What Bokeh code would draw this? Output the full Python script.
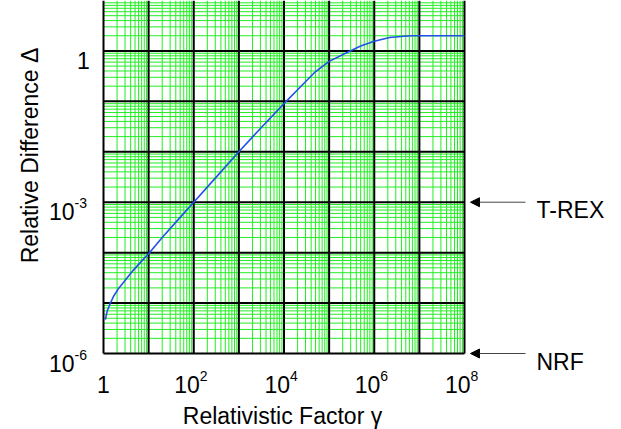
import numpy as np
from bokeh.plotting import figure
from bokeh.models import Label, Arrow, NormalHead, Range1d
from bokeh.embed import file_html
from bokeh.resources import INLINE

# ---- data ----
gamma = [1.1, 1.2, 1.4, 1.7, 2.2, 3.0, 4.5, 7, 10, 20, 50, 100, 300, 1000, 3000,
         1e4, 2e4, 4.7e4, 1e5, 2.5e5, 5e5, 1e6, 2.2e6, 4.5e6, 7e6, 1e7, 1e8]
delta = [4.7e-6, 6.8e-6, 9.7e-6, 1.4e-5, 2.0e-5, 2.8e-5, 4.4e-5, 6.8e-5, 9.5e-5,
         2.0e-4, 5.0e-4, 1.0e-3, 3.0e-3, 1.0e-2, 2.9e-2, 9.0e-2, 0.17, 0.37, 0.62,
         0.93, 1.25, 1.55, 1.85, 1.95, 2.0, 2.0, 2.0]
x_tick_vals = [1, 1e2, 1e4, 1e6, 1e8]
x_tick_exps = ["", "2", "4", "6", "8"]
y_tick_vals = [1e-6, 1e-3, 1]
y_tick_exps = ["-6", "-3", ""]
marker_levels = [1e-3, 1e-6]
marker_names = ["T-REX", "NRF"]
x_title = "Relativistic Factor \u03b3"
y_title = "Relative Difference \u0394"

# ---- layout (pixel geometry of the plotting area) ----
W, H = 621, 429
FL, FR, FT, FB = 103, 464, 0, 353
X0, X1 = 1.0, 1e8
Y0, Y1 = 1e-6, 1e1
lx0, lx1 = np.log10(X0), np.log10(X1)
ly0, ly1 = np.log10(Y0), np.log10(Y1)
kx = (lx1 - lx0) / (FR - FL)   # decades per pixel
ky = (ly1 - ly0) / (FB - FT)

def px_x(px):
    return 10 ** (lx0 + (px - FL) * kx)

def py_y(py):
    return 10 ** (ly1 - (py - FT) * ky)

def x_px(x):
    return FL + (np.log10(x) - lx0) / kx

def y_py(y):
    return FT + (ly1 - np.log10(y)) / ky

FONT = "Liberation Sans"
MAIN = "23px"
SUP = "14px"
GREEN = "#22ee22"
BLUE = "#2050e8"

p = figure(width=W, height=H, x_axis_type="log", y_axis_type="log",
           x_range=Range1d(px_x(0), px_x(W)), y_range=Range1d(py_y(H), py_y(0)),
           x_axis_location=None, y_axis_location=None,
           output_backend="svg", toolbar_location=None,
           min_border_left=0, min_border_right=0, min_border_top=0, min_border_bottom=0)
p.outline_line_color = None
p.background_fill_color = "white"
p.border_fill_color = "white"
for g in p.grid:
    g.visible = False

# grid lines (decades black, 2..9 green) limited to the plotting area
x_major = [10.0 ** k for k in range(0, 9)]
x_minor = [m * 10.0 ** k for k in range(0, 8) for m in range(2, 10)]
y_major = [10.0 ** k for k in range(-6, 1)]
y_minor = [m * 10.0 ** k for k in range(-6, 1) for m in range(2, 10)]

p.segment(x0=x_minor, y0=[Y0] * len(x_minor), x1=x_minor, y1=[Y1] * len(x_minor),
          line_color=GREEN, line_width=1)
p.segment(x0=[X0] * len(y_minor), y0=y_minor, x1=[X1] * len(y_minor), y1=y_minor,
          line_color=GREEN, line_width=1)
p.segment(x0=x_major, y0=[Y0] * len(x_major), x1=x_major, y1=[Y1] * len(x_major),
          line_color="black", line_width=2)
p.segment(x0=[X0] * len(y_major), y0=y_major, x1=[X1] * len(y_major), y1=y_major,
          line_color="black", line_width=2)

p.line(gamma, delta, line_color=BLUE, line_width=1.6)

def lab(x, y, text, size=MAIN, align="left", baseline="alphabetic", angle=0):
    p.add_layout(Label(x=x, y=y, text=text, text_font=FONT, text_font_size=size,
                       text_color="black", text_align=align,
                       text_baseline=baseline, angle=angle))

# x tick labels
xb = 383.5
for v, e in zip(x_tick_vals, x_tick_exps):
    if e == "":
        lab(v, py_y(xb), "1", align="center")
    else:
        j = px_x(x_px(v) + 6)
        lab(j, py_y(xb), "10", align="right")
        lab(j, py_y(xb - 8), e, size=SUP, align="left")

# y tick labels
for v, e in zip(y_tick_vals, y_tick_exps):
    base = y_py(v) + 9.5
    if e == "":
        lab(px_x(83), py_y(base), "1", align="center")
    else:
        lab(px_x(74), py_y(base), "10", align="right")
        lab(px_x(74), py_y(base - 8.5), e, size=SUP, align="left")

# axis titles
lab(px_x(282), py_y(415), x_title, align="center")
lab(px_x(29), py_y(155), y_title, align="center", angle=np.pi / 2)

# marker arrows on the right
for lvl, name in zip(marker_levels, marker_names):
    p.add_layout(Arrow(end=NormalHead(size=9, fill_color="black", line_color="black"),
                       x_start=px_x(525), y_start=lvl, x_end=px_x(470), y_end=lvl,
                       line_color="#444444", line_width=1))
    lab(px_x(536), py_y(y_py(lvl) + 8), name)

open("out.html", "w").write(file_html(p, INLINE))
